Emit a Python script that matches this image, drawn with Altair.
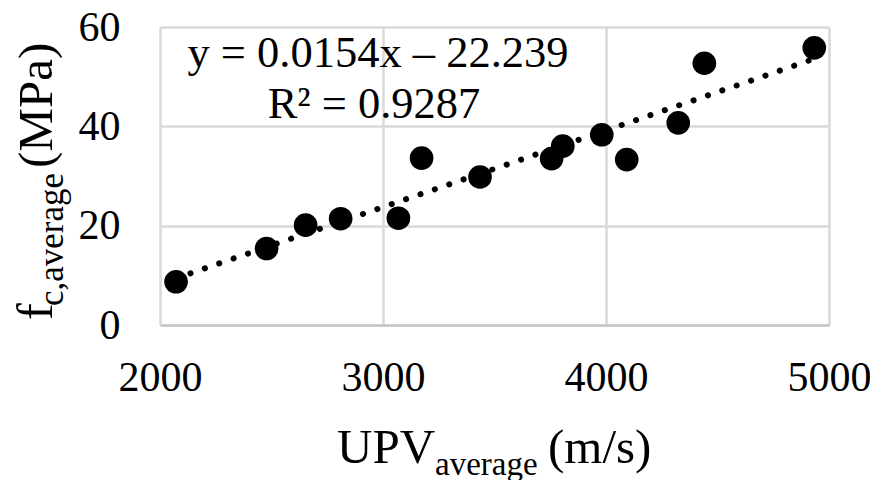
import altair as alt
import pandas as pd

# Data
upv = [2072, 2478, 2653, 2810, 3069, 3173, 3435, 3756, 3806, 3981, 4093, 4324, 4441, 4934]
fc = [8.7, 15.4, 20.1, 21.4, 21.5, 33.6, 29.8, 33.5, 36.0, 38.3, 33.3, 40.7, 52.7, 55.8]

x_ticks = [2000, 3000, 4000, 5000]
y_ticks = [0, 20, 40, 60]

eq_line1 = "y = 0.0154x \u2013 22.239"
eq_line2 = "R\u00b2 = 0.9287"

FONT = "Liberation Serif"

df = pd.DataFrame({"upv": upv, "fc": fc})

xscale = alt.Scale(domain=[2000, 5000], nice=False, zero=False)
yscale = alt.Scale(domain=[0, 60], nice=False)

xenc = alt.X("upv:Q", scale=xscale, title=None,
             axis=alt.Axis(values=x_ticks, format="d", labelPadding=32,
                           labelFlush=False, labelOverlap=False,
                           domain=True, domainColor="#c6c6c6", domainWidth=2.5))
yenc = alt.Y("fc:Q", scale=yscale, title=None,
             axis=alt.Axis(values=y_ticks, labelPadding=40, labelFlush=False,
                           labelOverlap=False, domain=False))

base = alt.Chart(df)

trend = base.transform_regression("upv", "fc", method="linear").mark_line(
    color="black", strokeWidth=6, strokeDash=[0.1, 15.1], strokeCap="round"
).encode(x=xenc, y=yenc)

points = base.mark_circle(size=560, color="black", opacity=1).encode(x=xenc, y=yenc)

one = pd.DataFrame({"k": [0]})


def label(txt, x, y, size, angle=0, align="left"):
    return alt.Chart(one).mark_text(
        text=txt, font=FONT, fontSize=size, color="black", align=align,
        baseline="alphabetic", angle=angle
    ).encode(x=alt.value(x), y=alt.value(y))


texts = [
    label(eq_line1, 218, 40, 44.5, align="center"),
    label(eq_line2, 214, 91, 44.5, align="center"),
    # x axis title with subscript
    label("UPV", 177, 436, 49),
    label("average", 275, 448, 33),
    label("(m/s)", 388, 436, 49),
    # y axis title with subscript
    label("f", -108, 293, 50, angle=270),
    label("c,average", -97, 279, 35, angle=270),
    label("(MPa)", -108, 141, 49, angle=270),
]

chart = alt.layer(trend, points, *texts).properties(
    width=669, height=298,
    autosize=alt.AutoSizeParams(type="none"),
    padding={"left": 152, "top": 19, "right": 41, "bottom": 165},
).configure_view(stroke=None).configure_axis(
    grid=True, gridColor="#d9d9d9", gridWidth=2.5, ticks=False,
    labelFont=FONT, labelFontSize=42, labelColor="black",
)

chart.save("out.html", embed_options={"renderer": "svg", "actions": False})
